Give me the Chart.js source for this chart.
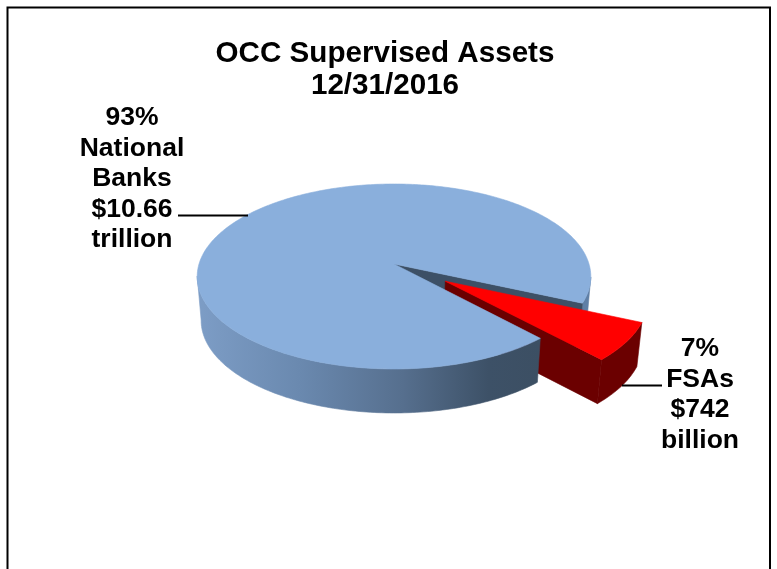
<!DOCTYPE html>
<html>
<head>
<meta charset="utf-8">
<script src="https://cdn.jsdelivr.net/npm/chart.js@4/dist/chart.umd.min.js"></script>
<style>
  html, body { margin: 0; padding: 0; background: #fff; }
  #wrap { width: 777px; height: 569px; }
</style>
</head>
<body>
<div id="wrap"><canvas id="assetsChart" width="777" height="569"></canvas></div>
<script>
const categories = ['National Banks', 'FSAs'];
const assets = [10.66, 0.742]; // trillions
const titleLines = ['OCC Supervised Assets', '12/31/2016'];
const labelLines = [
  ['93%', 'National', 'Banks', '$10.66', 'trillion'],
  ['7%', 'FSAs', '$742', 'billion']
];
const topColors = ['#8aafdc', '#ff0000'];

// picture geometry of the tilted disc
const view = { cx: 394, cy: 264, a: 195, b: 90.8, p: 0.135, depth: 44, shrink: 0.02 };
const D = Math.PI / 180;

// unit disc point (u,v) at height d (0 top, 1 bottom) to pixels
function project(u, v, d) {
  const w = 1 - view.p * v;
  return {
    x: view.cx + view.a * u / w * (1 - view.shrink * d),
    y: view.cy + view.b * v / w + view.depth * d
  };
}

function discOffset(arc) {
  const r = arc.outerRadius;
  const off = arc.options.offset || 0;
  const mid = (arc.startAngle + arc.endAngle) / 2;
  return { u: Math.cos(mid) * off / r, v: Math.sin(mid) * off / r };
}

function rimPoints(arc, from, to, d) {
  const o = discOffset(arc);
  const pts = [];
  const n = Math.max(2, Math.ceil(Math.abs(to - from) / D));
  for (let i = 0; i <= n; i++) {
    const t = from + (to - from) * i / n;
    pts.push(project(Math.cos(t) + o.u, Math.sin(t) + o.v, d));
  }
  return pts;
}

function fillPath(ctx, pts, color) {
  ctx.beginPath();
  pts.forEach((p, i) => i ? ctx.lineTo(p.x, p.y) : ctx.moveTo(p.x, p.y));
  ctx.closePath();
  ctx.fillStyle = color;
  ctx.fill();
  // hides the seams between neighbouring faces
  ctx.strokeStyle = color;
  ctx.lineWidth = 0.6;
  ctx.stroke();
}

function wall(ctx, arc, from, to, color) {
  const top = rimPoints(arc, from, to, 0);
  const bottom = rimPoints(arc, from, to, 1).reverse();
  fillPath(ctx, top.concat(bottom), color);
}

function sideWall(ctx, arc, angle, color) {
  const o = discOffset(arc);
  const c0 = project(o.u, o.v, 0);
  const c1 = project(o.u, o.v, 1);
  const r0 = project(Math.cos(angle) + o.u, Math.sin(angle) + o.v, 0);
  const r1 = project(Math.cos(angle) + o.u, Math.sin(angle) + o.v, 1);
  fillPath(ctx, [c0, r0, r1, c1], color);
}

function topFace(ctx, arc, color) {
  const o = discOffset(arc);
  const pts = [project(o.u, o.v, 0)].concat(rimPoints(arc, arc.startAngle, arc.endAngle, 0));
  fillPath(ctx, pts, color);
}

const pie3d = {
  id: 'pie3d',
  beforeDatasetDraw(chart) {
    const ctx = chart.ctx;
    const [blue, red] = chart.getDatasetMeta(0).data;
    const blueEnd = blue.endAngle;
    const blueStart = blue.startAngle;

    ctx.save();
    // back part of the blue slice, right of the gap
    wall(ctx, blue, blueEnd - 16 * D, blueEnd, '#5f7fa6');
    sideWall(ctx, blue, blueEnd, '#3d5066');

    // exploded slice
    sideWall(ctx, red, red.endAngle, '#6b0000');
    wall(ctx, red, red.startAngle, red.endAngle, '#6b0000');
    topFace(ctx, red, topColors[1]);

    // front wall of the blue slice, up to the left edge of the ellipse
    const g = ctx.createLinearGradient(197, 0, 540, 0);
    g.addColorStop(0, '#7d9dc6');
    g.addColorStop(0.3, '#6a89af');
    g.addColorStop(0.6, '#566f8e');
    g.addColorStop(0.85, '#3d5167');
    g.addColorStop(1, '#3c4f63');
    wall(ctx, blue, blueStart, blueStart + 125 * D, g);

    topFace(ctx, blue, topColors[0]);
    ctx.restore();
    return false;
  },
  afterDraw(chart) {
    const ctx = chart.ctx;
    ctx.save();
    // frame
    ctx.strokeStyle = '#000';
    ctx.lineWidth = 2;
    ctx.beginPath();
    ctx.moveTo(7.5, 569);
    ctx.lineTo(7.5, 7.5);
    ctx.lineTo(770, 7.5);
    ctx.lineTo(770, 569);
    ctx.stroke();
    // leader lines
    ctx.lineWidth = 2;
    ctx.beginPath();
    ctx.moveTo(178, 215.5);
    ctx.lineTo(248, 215.5);
    ctx.moveTo(622, 385.5);
    ctx.lineTo(662, 385.5);
    ctx.stroke();
    // slice labels
    ctx.fillStyle = '#000';
    ctx.font = 'bold 26.5px "Liberation Sans", Arial, sans-serif';
    ctx.textAlign = 'center';
    ctx.textBaseline = 'middle';
    labelLines[0].forEach((t, i) => ctx.fillText(t, 132, 118 + i * 30.5));
    labelLines[1].forEach((t, i) => ctx.fillText(t, 700, 349 + i * 30.4));
    ctx.restore();
  }
};

new Chart(document.getElementById('assetsChart'), {
  type: 'pie',
  data: {
    labels: categories,
    datasets: [{
      data: assets,
      backgroundColor: topColors,
      borderWidth: 0,
      radius: 150,
      offset: [0, 47.4]
    }]
  },
  options: {
    responsive: false,
    animation: false,
    rotation: 137.5,
    layout: { padding: { right: 7 } },
    plugins: {
      legend: { display: false },
      tooltip: { enabled: false },
      title: {
        display: true,
        text: titleLines,
        color: '#000',
        font: { family: '"Liberation Sans", Arial, sans-serif', size: 29.6, weight: 'bold', lineHeight: 1.08 },
        padding: { top: 38, bottom: 0 }
      }
    }
  },
  plugins: [pie3d]
});
</script>
</body>
</html>
